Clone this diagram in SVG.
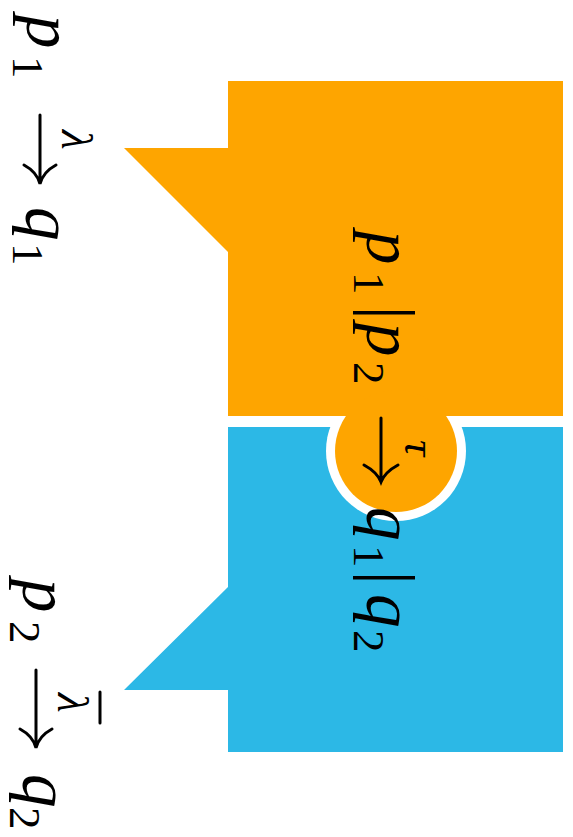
<svg xmlns="http://www.w3.org/2000/svg" width="573" height="837" viewBox="0 0 573 837">
<style>
text{font-family:'Liberation Serif','DejaVu Serif','Times New Roman',serif;fill:#000}
.m{font-style:italic}
.big{font-size:67px}
.sm{font-size:45px}
.arr{fill:none;stroke:#000;stroke-width:3;stroke-linecap:round}
</style>
<rect width="573" height="837" fill="#fff"/>
<g id="process2">
<path d="M228,427 H563 V752 H228 V690 H124 L228,587 Z" fill="#2CB8E6"/>
<circle cx="396" cy="451" r="70" fill="#fff"/>
</g>
<g id="process1">
<path d="M228,81 H563 V416 H228 V252 L124,148 H228 Z" fill="#FEA500"/>
<circle cx="396" cy="451" r="61" fill="#FEA500"/>
</g>
<g id="label1">
<g transform="rotate(90)">
<text class="m big" x="15" y="-27">p</text>
<text class="sm" x="56" y="-13">1</text>
<text class="m sm" x="130" y="-62">λ</text>
<text class="m big" x="207" y="-26">q</text>
<text class="sm" x="243" y="-13">1</text>
</g>
<path class="arr" d="M40,115 V182 M24,165 Q37,172 40,184 Q43,172 56,165"/>
</g>
<g id="label2">
<g transform="rotate(90)">
<text class="m big" x="579" y="-23">p</text>
<text class="sm" x="621" y="-10">2</text>
<text class="m sm" x="693" y="-58">λ</text>
<text class="m big" x="774" y="-23">q</text>
<text class="sm" x="807" y="-10">2</text>
</g>
<path class="arr" d="M100,692 V723"/>
<path class="arr" d="M36,670 V746 M20,729 Q33,736 36,748 Q39,736 52,729"/>
</g>
<g id="label3">
<g transform="rotate(90)">
<text class="m big" x="231" y="-367">p</text>
<text class="sm" x="272" y="-354">1</text>
<text class="big" x="306" y="-367">|</text>
<text class="m big" x="323" y="-367">p</text>
<text class="sm" x="362" y="-354">2</text>
<text class="m sm" x="440" y="-405">τ</text>
<text class="m big" x="507" y="-367">q</text>
<text class="sm" x="545" y="-354">1</text>
<text class="big" x="571" y="-367">|</text>
<text class="m big" x="594" y="-367">q</text>
<text class="sm" x="630" y="-354">2</text>
</g>
<path class="arr" d="M381,418 V480 M364,465 Q377,472 381,482 Q385,472 398,465"/>
</g>
</svg>
